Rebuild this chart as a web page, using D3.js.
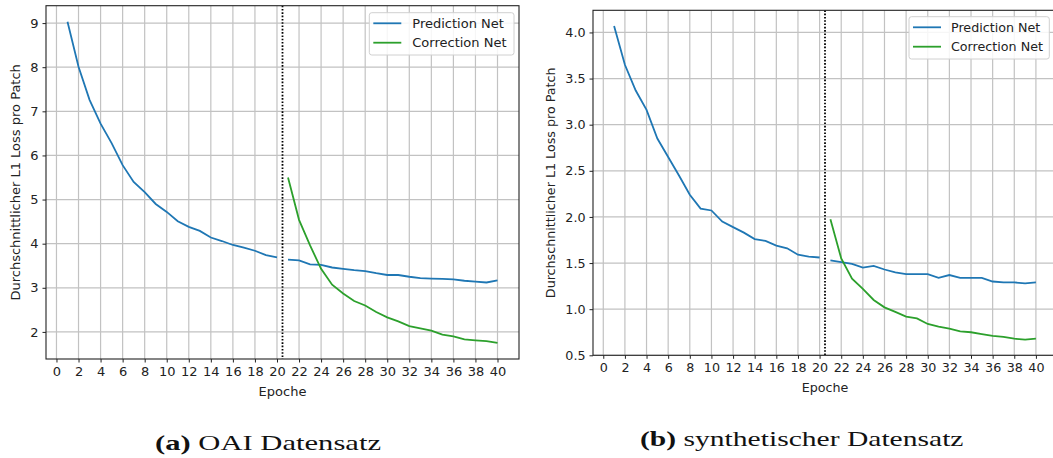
<!DOCTYPE html>
<html>
<head>
<meta charset="utf-8">
<script src="https://cdn.jsdelivr.net/npm/d3@7"></script>
<style>
html,body{margin:0;padding:0;background:#fff;}
svg{display:block;}
</style>
</head>
<body>
<svg id="chart" width="1053" height="458"></svg>
<script>
// ---- data ----
const epochsPred1 = d3.range(1, 21);
const epochsPred2 = d3.range(21, 41);
const epochsCorr = d3.range(21, 41);

const oaiPred1 = [9.03, 8.01, 7.26, 6.72, 6.28, 5.78, 5.40, 5.17, 4.90, 4.72, 4.51, 4.38, 4.29, 4.14, 4.06, 3.97, 3.91, 3.84, 3.74, 3.69];
const oaiPred2 = [3.64, 3.62, 3.53, 3.52, 3.46, 3.43, 3.40, 3.38, 3.33, 3.29, 3.29, 3.25, 3.22, 3.21, 3.20, 3.19, 3.16, 3.14, 3.12, 3.17];
const oaiCorr  = [5.50, 4.54, 3.96, 3.43, 3.07, 2.87, 2.70, 2.60, 2.45, 2.33, 2.24, 2.13, 2.08, 2.03, 1.94, 1.90, 1.83, 1.81, 1.79, 1.75];

const synPred1 = [4.07, 3.65, 3.37, 3.16, 2.85, 2.65, 2.45, 2.24, 2.09, 2.07, 1.95, 1.89, 1.83, 1.76, 1.74, 1.69, 1.66, 1.59, 1.57, 1.56];
const synPred2 = [1.53, 1.51, 1.49, 1.45, 1.47, 1.43, 1.40, 1.38, 1.38, 1.38, 1.34, 1.37, 1.34, 1.34, 1.34, 1.30, 1.29, 1.29, 1.28, 1.29];
const synCorr  = [1.975, 1.55, 1.33, 1.22, 1.10, 1.02, 0.97, 0.92, 0.90, 0.84, 0.81, 0.79, 0.76, 0.75, 0.73, 0.71, 0.70, 0.68, 0.67, 0.68];

const xTicks = d3.range(0, 41, 2);
const oaiYTicks = [2, 3, 4, 5, 6, 7, 8, 9];
const synYTicks = [0.5, 1.0, 1.5, 2.0, 2.5, 3.0, 3.5, 4.0];
const seriesNames = ["Prediction Net", "Correction Net"];
const colors = ["#1f77b4", "#2ca02c"];
const splitEpoch = 20.5;
const yLabel = "Durchschnittlicher L1 Loss pro Patch";
const xLabel = "Epoche";

const svg = d3.select("#chart");

function drawPanel(cfg) {
  const {left, top, right, bottom, pred1, pred2, corr, yTicks, yFmt, fs, legend, ylabX, xlabY} = cfg;
  const allY = pred1.concat(pred2, corr);
  const yMin = d3.min(allY), yMax = d3.max(allY);
  const yPad = (yMax - yMin) * 0.05;
  const xPad = (40 - 1) * 0.05;
  const x = d3.scaleLinear().domain([1 - xPad, 40 + xPad]).range([left, right]);
  const y = d3.scaleLinear().domain([yMin - yPad, yMax + yPad]).range([bottom, top]);

  const g = svg.append("g");
  const clipId = "clip" + left;
  svg.append("clipPath").attr("id", clipId).append("rect")
    .attr("x", left).attr("y", top).attr("width", right - left).attr("height", bottom - top);

  // grid
  const grid = g.append("g").attr("clip-path", `url(#${clipId})`);
  grid.selectAll("line.vx").data(xTicks).join("line")
    .attr("x1", d => x(d)).attr("x2", d => x(d)).attr("y1", top).attr("y2", bottom)
    .attr("stroke", "#c2c2c2").attr("stroke-width", 1.2);
  grid.selectAll("line.hy").data(yTicks).join("line")
    .attr("x1", left).attr("x2", right).attr("y1", d => y(d)).attr("y2", d => y(d))
    .attr("stroke", "#c2c2c2").attr("stroke-width", 1.2);

  // lines
  const line = d3.line().x(d => x(d[0])).y(d => y(d[1]));
  const plot = g.append("g").attr("clip-path", `url(#${clipId})`);
  plot.append("path").datum(d3.zip(epochsPred1, pred1)).attr("d", line)
    .attr("fill", "none").attr("stroke", colors[0]).attr("stroke-width", 1.8);
  plot.append("path").datum(d3.zip(epochsPred2, pred2)).attr("d", line)
    .attr("fill", "none").attr("stroke", colors[0]).attr("stroke-width", 1.8);
  plot.append("path").datum(d3.zip(epochsCorr, corr)).attr("d", line)
    .attr("fill", "none").attr("stroke", colors[1]).attr("stroke-width", 1.8);

  // dotted split line
  plot.append("line").attr("x1", x(splitEpoch)).attr("x2", x(splitEpoch))
    .attr("y1", top).attr("y2", bottom)
    .attr("stroke", "#000").attr("stroke-width", 1.8).attr("stroke-dasharray", "1.6,1.7");

  // frame
  g.append("rect").attr("x", left).attr("y", top).attr("width", right - left).attr("height", bottom - top)
    .attr("fill", "none").attr("stroke", "#222").attr("stroke-width", 1.1);

  // axes
  const xAxis = d3.axisBottom(x).tickValues(xTicks).tickSize(3.5).tickPadding(4).tickFormat(d3.format("d"));
  const yAxis = d3.axisLeft(y).tickValues(yTicks).tickSize(3.5).tickPadding(4).tickFormat(yFmt);
  const gx = g.append("g").attr("transform", `translate(0,${bottom})`).call(xAxis);
  const gy = g.append("g").attr("transform", `translate(${left},0)`).call(yAxis);
  [gx, gy].forEach(a => {
    a.select(".domain").remove();
    a.selectAll("line").attr("stroke", "#222").attr("stroke-width", 1);
    a.selectAll("text").attr("font-family", "DejaVu Sans").attr("font-size", fs).attr("fill", "#222");
  });

  // axis labels
  g.append("text").attr("x", (left + right) / 2).attr("y", xlabY)
    .attr("text-anchor", "middle").attr("font-family", "DejaVu Sans").attr("font-size", fs).attr("fill", "#222")
    .text(xLabel);
  g.append("text").attr("transform", `translate(${ylabX},${(top + bottom) / 2}) rotate(-90)`)
    .attr("text-anchor", "middle").attr("font-family", "DejaVu Sans").attr("font-size", fs).attr("fill", "#222")
    .text(yLabel);

  // legend
  const lg = g.append("g");
  lg.append("rect").attr("x", legend.x).attr("y", legend.y).attr("width", legend.w).attr("height", legend.h)
    .attr("rx", 2.5).attr("fill", "#fff").attr("fill-opacity", 0.85).attr("stroke", "#d0d0d0").attr("stroke-width", 1);
  seriesNames.forEach((name, i) => {
    const cy = legend.y + legend.row0 + i * legend.rowStep;
    lg.append("line").attr("x1", legend.x + 4).attr("x2", legend.x + 32).attr("y1", cy).attr("y2", cy)
      .attr("stroke", colors[i]).attr("stroke-width", 1.8);
    lg.append("text").attr("x", legend.x + legend.textDx).attr("y", cy).attr("dy", "0.35em")
      .attr("font-family", "DejaVu Sans").attr("font-size", fs).attr("fill", "#222").text(name);
  });
}

drawPanel({
  left: 46, top: 5.7, right: 519, bottom: 359,
  pred1: oaiPred1, pred2: oaiPred2, corr: oaiCorr,
  yTicks: oaiYTicks, yFmt: d3.format("d"), fs: 13,
  legend: {x: 369.3, y: 12.7, w: 144.7, h: 42.3, row0: 10.6, rowStep: 19.4, textDx: 43},
  ylabX: 20, xlabY: 396
});

drawPanel({
  left: 593, top: 10.3, right: 1057, bottom: 355.3,
  pred1: synPred1, pred2: synPred2, corr: synCorr,
  yTicks: synYTicks, yFmt: d3.format(".1f"), fs: 12.7,
  legend: {x: 909, y: 16.7, w: 140.3, h: 42.3, row0: 10.6, rowStep: 19.4, textDx: 42},
  ylabX: 555, xlabY: 392
});

// captions
function caption(xs, xe, baseline, bold, rest) {
  const t = svg.append("text").attr("x", xs).attr("y", baseline)
    .attr("font-family", "Liberation Serif, DejaVu Serif, serif").attr("font-size", 22).attr("fill", "#111")
    .attr("textLength", xe - xs).attr("lengthAdjust", "spacingAndGlyphs");
  t.append("tspan").attr("font-weight", "bold").text(bold);
  t.append("tspan").text(" " + rest);
}
caption(155, 381, 449.5, "(a)", "OAI Datensatz");
caption(640, 963.5, 446, "(b)", "synthetischer Datensatz");
</script>
</body>
</html>
